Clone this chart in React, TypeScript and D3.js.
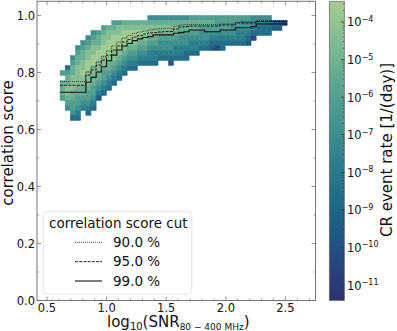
import React from "react";
import * as d3 from "d3";

const W = 397, H = 331;
const FONT = "'DejaVu Sans', sans-serif";

// heat-map: first row index of each SNR column and its rate level per row (top to bottom; '.' = empty bin)
const columnStart = [11,10,8,6,5,4,3,3,2,2,1,1,1,1,1,1,1,0,0,0,0,0,0,0,0,0,0,0,0,0,0,0,0,0,0,0,0,0,0,0,0,1,1,1];
const columnLevels = [
  "6.7776","367788765","5677888776653","567788887766543","56778898877654",
  "5678899888766543","5678899887766543","67789988776542","67889988766543","7889998776543",
  "6789998876543","688999876543","78999876543","7899876543","7899876543",
  "789876543","789876543","5788765443","5788765443","578765543",
  "578765543","5787655432","578765443","577655443","577655433",
  "67765443","67765443","6765543","6765543","6765432",
  "6665431","6665433","666543","665543","665443",
  "655443","655432","55431","5433","5433",
  "5333","22","22","1",
];
const xBinStart = 0.609, xBinWidth = 0.0433;
const yBinTop = 1.0, yBinHeight = 0.01754;

// score cut per SNR bin
const cut90 = [.768,.768,.768,.768,.768,.802,.8193,.8368,.8554,.8754,.893,.907,.921,.93,.937,.942,.9456,.949,.9516,.9536,.955,.955,.963,.9667,.9677,.968,.968,.968,.968,.968,.968,.97,.97,.97,.977,.977,.977,.977,.982,.982,.982,.982,.982,.982];
const cut95 = [.755,.755,.755,.755,.755,.791,.809,.826,.8435,.861,.879,.893,.907,.916,.9245,.93,.935,.939,.94,.942,.944,.944,.9526,.9596,.9614,.963,.963,.963,.963,.963,.963,.9667,.9667,.9667,.9737,.9737,.9737,.9737,.979,.979,.979,.979,.979,.979];
const cut99 = [.7305,.7305,.7305,.7305,.7305,.766,.783,.802,.82,.841,.861,.879,.893,.902,.912,.918,.923,.926,.932,.932,.932,.932,.9375,.94,.943,.949,.949,.949,.943,.943,.943,.949,.949,.949,.957,.957,.957,.961,.97,.97,.97,.97,.97,.97];

const xMajor = [0.5,1.0,1.5,2.0,2.5];
const yMajor = [0,0.2,0.4,0.6,0.8,1.0];
const cbExponents = [-4,-5,-6,-7,-8,-9,-10,-11];
const legendItems = [
  { label: "90.0 %", values: cut90, dash: "1 1", width: 0.8 },
  { label: "95.0 %", values: cut95, dash: "3 1.2", width: 0.9 },
  { label: "99.0 %", values: cut99, dash: "", width: 1.1 },
];
const crestStops = ["#2c3172","#254b7f","#1c6488","#287a8c","#40908e","#59a590","#7dba91","#a5cd90"];

const x = d3.scaleLinear().domain([0.416, 2.752]).range([37, 315.5]);
const y = d3.scaleLinear().domain([0, 1.05]).range([300.5, 1.25]);
const logMin = -11.41, logMax = -3.45;
const cbY = d3.scaleLinear().domain([logMin, logMax]).range([300.5, 1.25]);
const crest = d3.scaleLinear<string>()
  .domain(crestStops.map((_, i) => i / (crestStops.length - 1)))
  .range(crestStops).interpolate(d3.interpolateRgb);
const levelToLog = d3.scaleLinear().domain([0, 9]).range([-11.2, -3.55]);
const colorOf = (l: number) => crest((l - logMin) / (logMax - logMin));

function stepPath(values: number[]) {
  const pts: [number, number][] = values.map((v, j) => [xBinStart + j * xBinWidth, v]);
  pts.push([xBinStart + values.length * xBinWidth, values[values.length - 1]]);
  return d3.line<[number, number]>().x(d => x(d[0])).y(d => y(d[1])).curve(d3.curveStepAfter)(pts)!;
}

const AXIS = "#666";
const gradStops = d3.range(0, 1.0001, 0.05);

export default function App() {
  const minorX = d3.range(0.5, 2.75, 0.1).filter(v => !xMajor.some(m => Math.abs(m - v) < 1e-6));
  const minorY = d3.range(0.1, 1.05, 0.2);
  const cells: React.ReactNode[] = [];
  columnLevels.forEach((s, j) => {
    s.split("").forEach((c, k) => {
      if (c === ".") return;
      const r = columnStart[j] + k;
      const x0 = x(xBinStart + j * xBinWidth), x1 = x(xBinStart + (j + 1) * xBinWidth);
      const y0 = y(yBinTop - r * yBinHeight), y1 = y(yBinTop - (r + 1) * yBinHeight);
      cells.push(<rect key={`${j}-${k}`} x={x0} y={y0} width={x1 - x0} height={y1 - y0} fill={colorOf(levelToLog(+c))} stroke={colorOf(levelToLog(+c))} strokeWidth={0.5} />);
    });
  });
  const cbMinor: number[] = [];
  d3.range(-12, -3).forEach(e => d3.range(2, 10).forEach(m => {
    const v = e + Math.log10(m);
    if (v > logMin && v < logMax) cbMinor.push(v);
  }));
  return (
    <svg width={W} height={H} style={{ position: "absolute", left: 0, top: 0, fontFamily: FONT }}>
      <defs>
        <linearGradient id="crest" x1="0" y1="1" x2="0" y2="0">
          {gradStops.map(t => <stop key={t} offset={t} stopColor={crest(t)} />)}
        </linearGradient>
        <filter id="soft" x="-5%" y="-5%" width="110%" height="110%">
          <feGaussianBlur stdDeviation="0.45" />
        </filter>
      </defs>
      <g filter="url(#soft)">{cells}</g>
      {legendItems.map(d => (
        <path key={d.label} d={stepPath(d.values)} fill="none" stroke="#111" strokeWidth={d.width} strokeDasharray={d.dash} />
      ))}
      {/* axes frame */}
      <rect x={37} y={1.25} width={278.5} height={299.25} fill="none" stroke={AXIS} strokeWidth={0.9} />
      {xMajor.map(v => (
        <g key={v} stroke={AXIS} strokeWidth={0.7}>
          <line x1={x(v)} x2={x(v)} y1={300.5} y2={296.5} />
          <line x1={x(v)} x2={x(v)} y1={1.25} y2={5.25} />
        </g>
      ))}
      {minorX.map(v => (
        <g key={v} stroke={AXIS} strokeWidth={0.6}>
          <line x1={x(v)} x2={x(v)} y1={300.5} y2={298.3} />
          <line x1={x(v)} x2={x(v)} y1={1.25} y2={3.45} />
        </g>
      ))}
      {yMajor.map(v => (
        <g key={v} stroke={AXIS} strokeWidth={0.7}>
          <line x1={37} x2={41} y1={y(v)} y2={y(v)} />
          <line x1={315.5} x2={311.5} y1={y(v)} y2={y(v)} />
        </g>
      ))}
      {minorY.map(v => (
        <g key={v} stroke={AXIS} strokeWidth={0.6}>
          <line x1={37} x2={39.2} y1={y(v)} y2={y(v)} />
          <line x1={315.5} x2={313.3} y1={y(v)} y2={y(v)} />
        </g>
      ))}
      {xMajor.map(v => (
        <text key={v} x={x(v)} y={311.5} textAnchor="middle" fontSize={11.5} fill="#111">{v.toFixed(1)}</text>
      ))}
      {yMajor.map(v => (
        <text key={v} x={35} y={y(v) + 4.2} textAnchor="end" fontSize={11.5} fill="#111">{v.toFixed(1)}</text>
      ))}
      <text transform="translate(13,143) rotate(-90)" textAnchor="middle" fontSize={15} fill="#111">correlation score</text>
      <text x={107} y={327} fontSize={15} fill="#111">
        log<tspan fontSize={10} dy={2.5}>10</tspan>
        <tspan dy={-2.5}>(SNR</tspan>
        <tspan fontSize={9} dy={2.5}>80 − 400 MHz</tspan>
        <tspan dy={-2.5}>)</tspan>
      </text>
      {/* legend */}
      <rect x={43.7} y={211.7} width={148} height={82.3} rx={3} fill="#fff" fillOpacity={0.85} stroke="#ddd" strokeWidth={0.8} />
      <text x={49} y={228} fontSize={13.5} fill="#111">correlation score cut</text>
      {legendItems.map((d, i) => {
        const ly = 242.3 + i * 19.35;
        return (
          <g key={d.label}>
            <line x1={75} x2={102} y1={ly} y2={ly} stroke="#111" strokeWidth={d.width} strokeDasharray={d.dash} />
            <text x={113} y={ly + 4.8} fontSize={13.5} fill="#111">{d.label}</text>
          </g>
        );
      })}
      {/* colour bar */}
      <rect x={329.3} y={1.25} width={15} height={299.25} fill="url(#crest)" stroke={AXIS} strokeWidth={0.7} />
      {cbMinor.map(v => <line key={v} x1={344.3} x2={342.6} y1={cbY(v)} y2={cbY(v)} stroke="#333" strokeWidth={0.5} />)}
      {cbExponents.map(e => (
        <g key={e}>
          <line x1={344.3} x2={341} y1={cbY(e)} y2={cbY(e)} stroke="#333" strokeWidth={0.7} />
          <text x={347} y={cbY(e) + 4.5} fontSize={11.5} fill="#111">
            10<tspan fontSize={8} dy={-4.5}>{"−" + Math.abs(e)}</tspan>
          </text>
        </g>
      ))}
      <text transform="translate(392,150) rotate(-90)" textAnchor="middle" fontSize={15} fill="#111">CR event rate [1/(day)]</text>
    </svg>
  );
}
